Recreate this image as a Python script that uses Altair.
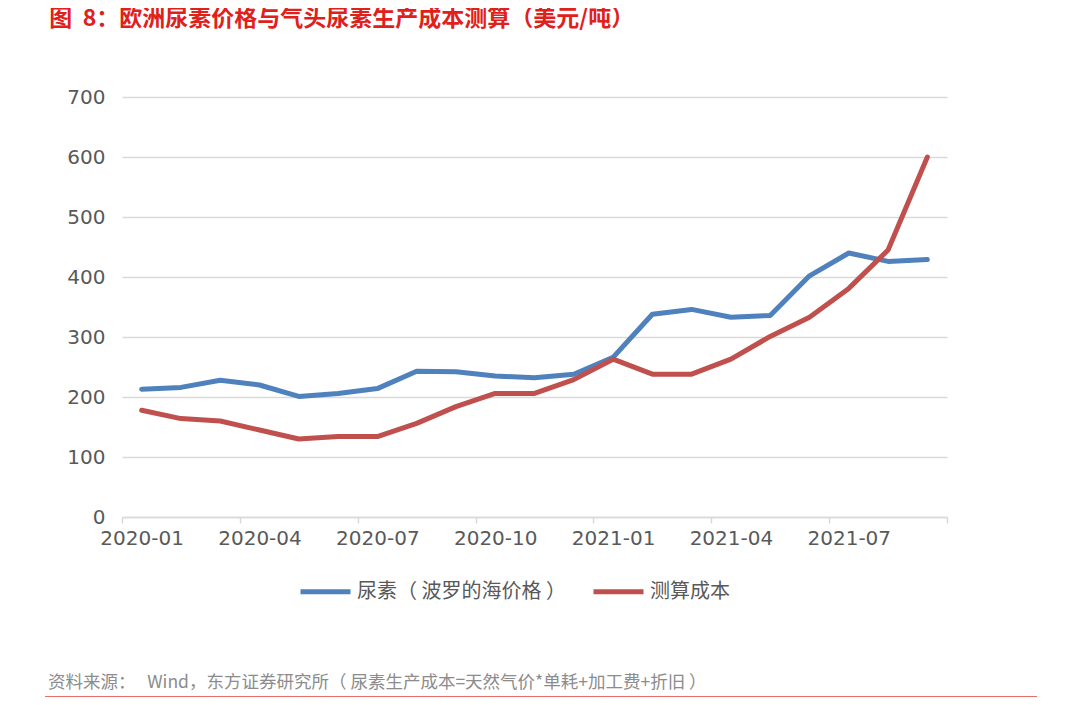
import altair as alt
import pandas as pd

months = ["2020-01", "2020-02", "2020-03", "2020-04", "2020-05", "2020-06", "2020-07",
          "2020-08", "2020-09", "2020-10", "2020-11", "2020-12", "2021-01", "2021-02",
          "2021-03", "2021-04", "2021-05", "2021-06", "2021-07", "2021-08", "2021-09"]
urea_price = [213, 216, 228, 220, 201, 206, 214, 243, 242, 235, 232, 238, 266, 338,
              346, 333, 336, 402, 440, 426, 429]
est_cost = [178, 164, 160, 145, 130, 134, 134, 156, 184, 206, 206, 229, 263, 238,
            238, 263, 301, 333, 381, 445, 600]
series_names = ["尿素（ 波罗的海价格 ）", "测算成本"]
series_colors = ["#4F81BD", "#C0504D"]
NB = "\u00a0"
title_text = "图" + NB * 2 + "8：欧洲尿素价格与气头尿素生产成本测算（美元/吨）"
source_text = "资料来源：" + NB * 3 + "Wind，东方证券研究所（" + NB + "尿素生产成本=天然气价*单耗+加工费+折旧" + NB + "）"

rows = []
for i, m in enumerate(months):
    rows.append({"idx": i, "month": m, "series": series_names[0], "value": urea_price[i]})
    rows.append({"idx": i, "month": m, "series": series_names[1], "value": est_cost[i]})
df = pd.DataFrame(rows)

W, H = 825, 420
n = len(months)
band = W / n
tick_vals = [-0.5 + 3 * k for k in range(n // 3 + 1)]
tick_labels = months[::3] + [""]
label_expr = "[" + ",".join("'%s'" % t for t in tick_labels) + "][round((datum.value + 0.5) / 3)]"

NUMFONT = "DejaVu Sans"
CJK = "Noto Sans CJK SC"

lines = alt.Chart(df).mark_line(strokeWidth=5, strokeCap="round", strokeJoin="round").encode(
    x=alt.X("idx:Q",
            scale=alt.Scale(domain=[-0.5, n - 0.5], nice=False, zero=False),
            axis=alt.Axis(values=tick_vals, labelExpr=label_expr, labelOffset=band / 2,
                          grid=False, domainColor="#d9d9d9", domainWidth=1.5,
                          tickColor="#d9d9d9", tickWidth=1.5, tickSize=6,
                          labelFont=NUMFONT, labelFontSize=20, labelColor="#595959",
                          labelPadding=5, labelBound=False, labelOverlap=False,
                          labelFlush=False, title=None)),
    y=alt.Y("value:Q",
            scale=alt.Scale(domain=[0, 700], nice=False),
            axis=alt.Axis(values=list(range(0, 701, 100)), grid=True, gridColor="#d9d9d9",
                          gridWidth=1.5, domain=False, ticks=False,
                          labelFont=NUMFONT, labelFontSize=20, labelColor="#595959",
                          labelPadding=17, title=None)),
    color=alt.Color("series:N",
                    scale=alt.Scale(domain=series_names, range=series_colors),
                    sort=series_names,
                    legend=alt.Legend(orient="none", legendX=176, legendY=467,
                                      direction="horizontal", title=None,
                                      symbolType="stroke", symbolSize=2500,
                                      symbolStrokeWidth=5, columnPadding=17,
                                      labelFont=CJK, labelFontSize=20,
                                      labelColor="#595959", labelOffset=4,
                                      labelLimit=400)),
    order="idx:Q",
)

src_df = pd.DataFrame({"t": [source_text]})
source = alt.Chart(src_df).mark_text(align="left", baseline="middle", font=CJK,
                                     fontSize=17.5, color="#8c8c8c").encode(
    x=alt.value(-74), y=alt.value(586), text="t:N")

rule = alt.Chart(src_df).mark_rule(color="#E03C3C", strokeWidth=1.5).encode(
    x=alt.value(-77), x2=alt.value(915), y=alt.value(600))

chart = alt.layer(lines, source, rule).properties(
    width=W, height=H,
    title=alt.TitleParams(title_text, anchor="start", dx=5, offset=56,
                          font=CJK, fontSize=23, fontWeight="bold", color="#E0201B"),
    autosize=alt.AutoSizeParams(type="none"),
    padding={"left": 114, "top": 89, "right": 120, "bottom": 180},
).configure_view(stroke=None)

chart.save("out.html", embed_options={"renderer": "svg", "actions": False})
